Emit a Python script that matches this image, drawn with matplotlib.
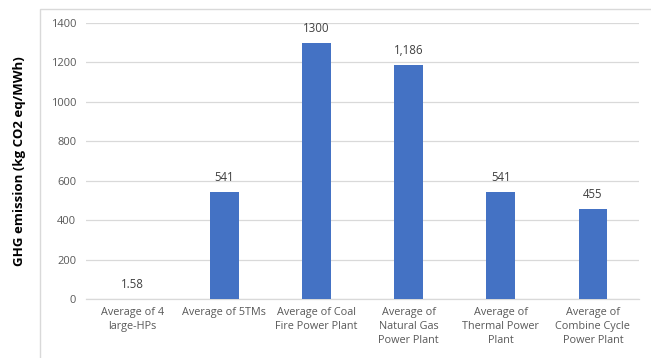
import numpy as np
import matplotlib.pyplot as plt
from matplotlib.patches import Rectangle

categories = ["Average of 4\nlarge-HPs", "Average of 5TMs", "Average of Coal\nFire Power Plant",
              "Average of\nNatural Gas\nPower Plant", "Average of\nThermal Power\nPlant",
              "Average of\nCombine Cycle\nPower Plant"]
values = [1.58, 541, 1300, 1186, 541, 455]
value_labels = ["1.58", "541", "1300", "1,186", "541", "455"]
yticks = [0, 200, 400, 600, 800, 1000, 1200, 1400]

plt.rcParams['font.family'] = ['Open Sans', 'DejaVu Sans']
text_col = "#595959"

W, H = 651, 358
fig = plt.figure(figsize=(W / 100, H / 100), dpi=100)
ax = fig.add_axes([86 / W, 1 - 299 / H, (639 - 86) / W, (299 - 23) / H])

# chart area border (cropped on right and bottom)
fig.patches.append(Rectangle((40 / W, -0.1), 1.0, 1.1 - 9 / H, transform=fig.transFigure,
                             fill=False, edgecolor="#D9D9D9", linewidth=1.0))

x = np.arange(len(categories))
ax.bar(x, values, width=0.31, color="#4472C4", zorder=3)

for xi, v, lab in zip(x, values, value_labels):
    ax.text(xi, v + 40, lab, ha="center", va="bottom", fontsize=8.3, color="#404040")

ax.set_xlim(-0.5, len(categories) - 0.5)
ax.set_ylim(0, 1400)
ax.set_yticks(yticks)
ax.set_yticklabels([str(t) for t in yticks], fontsize=8, color=text_col)
ax.set_xticks(x)
ax.set_xticklabels(categories, fontsize=7.8, color=text_col, linespacing=1.35)
ax.tick_params(axis="x", length=0, pad=6)
ax.tick_params(axis="y", length=0, pad=7)

ax.grid(axis="y", color="#D9D9D9", linewidth=0.9, zorder=0)
for side in ["top", "right", "left"]:
    ax.spines[side].set_visible(False)
ax.spines["bottom"].set_color("#D9D9D9")
ax.spines["bottom"].set_linewidth(0.9)

ax.set_ylabel("GHG emission (kg CO2 eq/MWh)", fontsize=9.5, fontweight="bold",
              color="#000000")
ax.yaxis.set_label_coords(-60 / (639 - 86), 0.5)

fig.savefig("out.png", dpi=100)
